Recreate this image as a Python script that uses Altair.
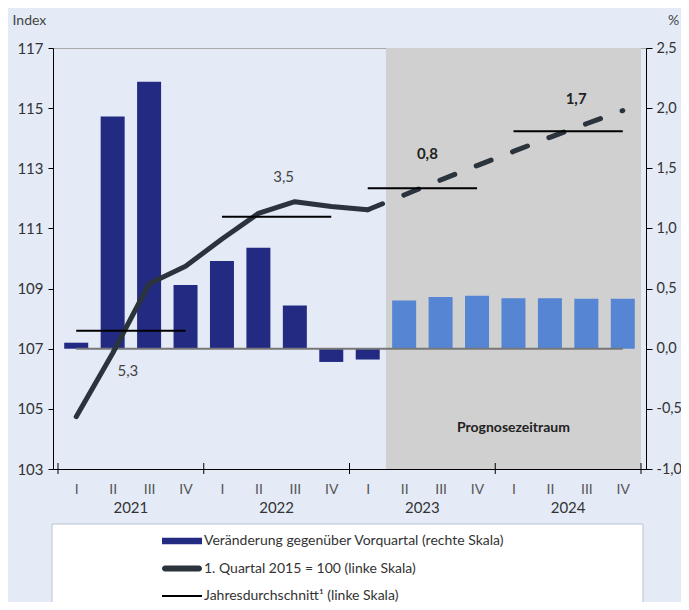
import altair as alt
import pandas as pd

# ---------------- data ----------------
quarter_labels = ["I", "II", "III", "IV"] * 4
year_labels = ["2021", "2022", "2023", "2024"]
change_vs_prev_quarter = [0.05, 1.93, 2.22, 0.53, 0.73, 0.84, 0.36, -0.11,
                          -0.09, 0.40, 0.43, 0.44, 0.42, 0.42, 0.415, 0.415]
index_2015q1 = [104.74, 106.85, 109.16, 109.74, 110.65, 111.50, 111.89, 111.73,
                111.62, 112.11, 112.61, 113.09, 113.56, 114.03, 114.48, 114.92]
annual_average = [107.6, 111.39, 112.34, 114.23]
annual_growth_label = ["5,3", "3,5", "0,8", "1,7"]
forecast_first_quarter = 9          # 2023 Q2 (0-based)
forecast_label = "Prognosezeitraum"
legend_labels = [
    "Veränderung gegenüber Vorquartal (rechte Skala)",
    "1. Quartal 2015 = 100 (linke Skala)",
    "Jahresdurchschnitt¹ (linke Skala)",
]

# ---------------- styles ----------------
W, H = 593, 421
NAVY = "#232a82"
LIGHT = "#5585d3"
SLATE = "#2b333d"
SHADE = "#d0d0d0"
PAGE_BG = "#e4ebf7"
FONT = "Lato"

n = len(quarter_labels)
q = pd.DataFrame({
    "idx": list(range(n)),
    "quarter": quarter_labels,
    "change": change_vs_prev_quarter,
    "level": index_2015q1,
})
q["forecast"] = q["idx"] >= forecast_first_quarter

years_df = pd.DataFrame({
    "year": year_labels,
    "start": [4 * i for i in range(len(year_labels))],
    "end": [4 * i + 3 for i in range(len(year_labels))],
    "mid": [4 * i + 1.5 for i in range(len(year_labels))],
    "avg": annual_average,
    "growth": annual_growth_label,
})
bounds_df = pd.DataFrame({"b": [4 * i - 0.5 for i in range(len(year_labels) + 1)]})
shade_df = pd.DataFrame({"a": [forecast_first_quarter - 0.5], "b": [n - 0.5]})
zero_df = pd.DataFrame({"a": [0], "b": [n - 1], "v": [0.0]})
prog_df = pd.DataFrame({"label": [forecast_label],
                        "mid": [(forecast_first_quarter + n - 1) / 2]})
legend_df = pd.DataFrame({"series": legend_labels})
box_df = pd.DataFrame({"k": [1]})

js_quarters = "[" + ",".join("'" + s + "'" for s in quarter_labels) + "]"

x_scale = alt.Scale(domain=[-0.5, n - 0.5], nice=False, zero=False)
x_axis = alt.Axis(values=list(range(n)), labelExpr=js_quarters + "[datum.value]",
                  ticks=False, grid=False, title=None, labelFontSize=14,
                  labelColor="#555", labelPadding=13)


def X(field):
    return alt.X(field, scale=x_scale, axis=x_axis)


yl_scale = alt.Scale(domain=[103, 117], nice=False, zero=False)
yl_axis = alt.Axis(orient="left", values=list(range(103, 118, 2)), format="d",
                   title="Index", titleAngle=0, titleAlign="left", titleX=-41,
                   titleY=-24, titleBaseline="alphabetic", tickSize=5,
                   labelPadding=5, grid=False)
yr_scale = alt.Scale(domain=[-1, 2.5], nice=False, zero=False)
yr_axis = alt.Axis(orient="right", values=[-1, -0.5, 0, 0.5, 1, 1.5, 2, 2.5],
                   labelExpr="(datum.value < 0 ? '-' : '') + replace(format(abs(datum.value), '.1f'), '.', ',')",
                   title="%", titleAngle=0, titleAlign="center", titleX=27,
                   titleY=-24, titleBaseline="alphabetic", tickSize=6,
                   labelPadding=4, labelFontSize=14.5, grid=False)

# ---------------- right-scale group ----------------
shade = alt.Chart(shade_df).mark_rect(color=SHADE).encode(
    x=X("a:Q"), x2="b:Q", y=alt.value(0), y2=alt.value(H))

box = alt.Chart(box_df).mark_rect(fill="white", stroke="#b9c2d0", strokeWidth=1).encode(
    x=alt.value(-1), x2=alt.value(590), y=alt.value(476), y2=alt.value(600))

bars = alt.Chart(q).mark_bar(size=24).encode(
    x=X("idx:Q"),
    y=alt.Y("change:Q", scale=yr_scale, axis=yr_axis),
    y2=alt.datum(0),
    color=alt.condition("datum.forecast", alt.value(LIGHT), alt.value(NAVY)),
)

zero_rule = alt.Chart(zero_df).mark_rule(color="#777777", strokeWidth=2).encode(
    x=X("a:Q"), x2="b:Q", y=alt.Y("v:Q", scale=yr_scale, axis=yr_axis))

prog_text = alt.Chart(prog_df).mark_text(fontSize=14, fontWeight="bold", color="#222222",
                                         baseline="middle").encode(
    x=X("mid:Q"), y=alt.value(380), text="label:N")

year_ticks = alt.Chart(bounds_df).mark_rule(color="black", strokeWidth=1).encode(
    x=X("b:Q"), y=alt.value(H - 6), y2=alt.value(H + 5))

year_text = alt.Chart(years_df).mark_text(fontSize=15, color="#333333",
                                          baseline="middle").encode(
    x=X("mid:Q"), y=alt.value(H + 39), text="year:N")

right = alt.layer(shade, box, bars, zero_rule, prog_text, year_ticks, year_text)

# ---------------- left-scale group ----------------
YL = alt.Y("level:Q", scale=yl_scale, axis=yl_axis)
solid = alt.Chart(q).transform_filter(
    f"datum.idx <= {forecast_first_quarter - 1}").mark_line(
    color=SLATE, strokeWidth=5, strokeCap="round", strokeJoin="round").encode(
    x=X("idx:Q"), y=YL)
dashed = alt.Chart(q).transform_filter(
    f"datum.idx >= {forecast_first_quarter - 1}").mark_line(
    color=SLATE, strokeWidth=5, strokeCap="round", strokeJoin="round",
    strokeDash=[16, 23]).encode(x=X("idx:Q"), y=YL)

avg = alt.Chart(years_df).mark_rule(color="black", strokeWidth=2).encode(
    x=X("start:Q"), x2="end:Q", y=alt.Y("avg:Q", scale=yl_scale, axis=yl_axis))

label_styles = [
    dict(dx=-3, dy=40, color="#444444", fontWeight="normal"),
    dict(dx=7, dy=-40, color="#444444", fontWeight="normal"),
    dict(dx=5, dy=-34, color="#222222", fontWeight="bold"),
    dict(dx=8, dy=-32, color="#222222", fontWeight="bold"),
]
growth_layers = []
for i, st in enumerate(label_styles):
    growth_layers.append(
        alt.Chart(years_df).transform_filter(f"datum.year == '{year_labels[i]}'")
        .mark_text(fontSize=15, baseline="middle", **st)
        .encode(x=X("mid:Q"), y=alt.Y("avg:Q", scale=yl_scale, axis=yl_axis),
                text="growth:N")
    )

p_bar = "M-2,-0.33H2V0.33H-2Z"
p_thick = "M-1.7,-0.3L1.7,-0.3A0.3,0.3 0 0 1 1.7,0.3L-1.7,0.3A0.3,0.3 0 0 1 -1.7,-0.3Z"
p_thin = "M-2,-0.1H2V0.1H-2Z"
leg = alt.Legend(orient="none", legendX=119, legendY=483, direction="vertical",
                 symbolSize=400, symbolStrokeWidth=0, labelFontSize=14,
                 labelFont=FONT, labelColor="#333333", labelOffset=12,
                 rowPadding=10.5, padding=0, labelLimit=500)
legend_layer = alt.Chart(legend_df).transform_filter("false").mark_point(
    filled=True, opacity=1).encode(
    color=alt.Color("series:N", title=None, legend=leg,
                    scale=alt.Scale(domain=legend_labels, range=[NAVY, SLATE, "black"])),
    shape=alt.Shape("series:N", title=None, legend=leg,
                    scale=alt.Scale(domain=legend_labels, range=[p_bar, p_thick, p_thin])),
)

left = alt.layer(solid, dashed, avg, *growth_layers, legend_layer)

chart = (
    alt.layer(right, left)
    .resolve_scale(y="independent")
    .properties(width=W, height=H,
                padding={"left": 45, "top": 40, "right": 35, "bottom": 133},
                autosize=alt.AutoSizeParams(type="none"))
    .configure(background=PAGE_BG, font=FONT)
    .configure_view(fill="white", stroke="#a9a9a9", strokeWidth=1)
    .configure_axis(domainColor="black", tickColor="black", labelColor="#333333",
                    labelFontSize=15, titleFontSize=14, titleFontWeight="normal",
                    titleColor="#444444", labelFont=FONT, titleFont=FONT)
)

chart.save("out.html", embed_options={"renderer": "svg", "actions": False})
